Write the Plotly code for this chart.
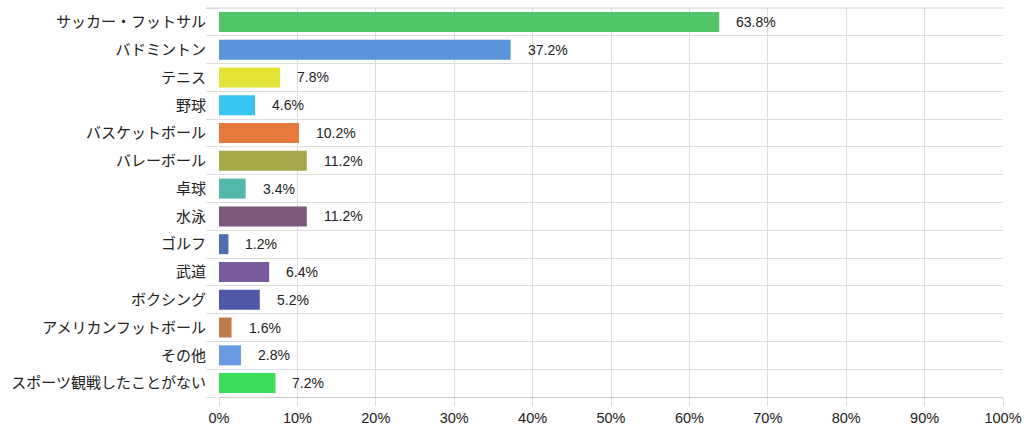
import plotly.graph_objects as go

categories = ["サッカー・フットサル", "バドミントン", "テニス", "野球", "バスケットボール",
              "バレーボール", "卓球", "水泳", "ゴルフ", "武道", "ボクシング",
              "アメリカンフットボール", "その他", "スポーツ観戦したことがない"]
values = [63.8, 37.2, 7.8, 4.6, 10.2, 11.2, 3.4, 11.2, 1.2, 6.4, 5.2, 1.6, 2.8, 7.2]
colors = ["#52c569", "#5b95d9", "#e3e336", "#36c5ee", "#e67a3d", "#a6a84a", "#55b8ad",
          "#7b5a7c", "#4f6fae", "#7a5b9e", "#5059a8", "#c07a4e", "#6a9ae3", "#3ade5a"]
x_ticks = [0, 10, 20, 30, 40, 50, 60, 70, 80, 90, 100]

pos = list(range(len(categories)))

fig = go.Figure()
fig.add_trace(go.Bar(
    x=values, y=pos, orientation="h",
    marker=dict(color=colors, line=dict(width=0)),
    width=0.72, hoverinfo="skip",
))

for v, p in zip(values, pos):
    fig.add_annotation(x=v, y=p, text=f"{v:.1f}%", showarrow=False,
                       xanchor="left", yanchor="middle", xshift=15,
                       font=dict(size=14, color="#222222",
                                 family="Liberation Sans, Arial, sans-serif"))

fig.update_layout(
    width=1024, height=433,
    margin=dict(l=219, r=21, t=8, b=36, autoexpand=False),
    paper_bgcolor="white", plot_bgcolor="white",
    showlegend=False,
    font=dict(family="Liberation Sans, Noto Sans CJK JP, sans-serif", size=14, color="#222222"),
    xaxis=dict(range=[0, 100], tickvals=x_ticks, ticktext=[f"{t}%" for t in x_ticks],
               showgrid=True, gridcolor="#dddddd", gridwidth=1,
               ticks="outside", ticklen=8, tickcolor="#dddddd",
               showline=True, linecolor="#cccccc", mirror=False, automargin=False,
               zeroline=False, tickfont=dict(size=14.5, color="#222222"), fixedrange=True),
    yaxis=dict(range=[len(categories) - 0.5, -0.5], tickvals=pos, ticktext=categories,
               showgrid=False, zeroline=False, ticks="", ticklabelstandoff=12,
               automargin=False,
               minor=dict(tick0=0.5, dtick=1, showgrid=True, gridcolor="#dddddd",
                          ticks="outside", ticklen=12, tickcolor="#dddddd"),
               tickfont=dict(size=15, color="#222222",
                             family="Noto Sans CJK JP, sans-serif"),
               fixedrange=True),
)
fig.add_shape(type="line", xref="paper", yref="paper", x0=-0.016, x1=1, y0=1, y1=1,
              line=dict(color="#cccccc", width=1))

fig.write_html("out.html", post_script="document.body.style.margin='0';",
               config={"displayModeBar": False})
